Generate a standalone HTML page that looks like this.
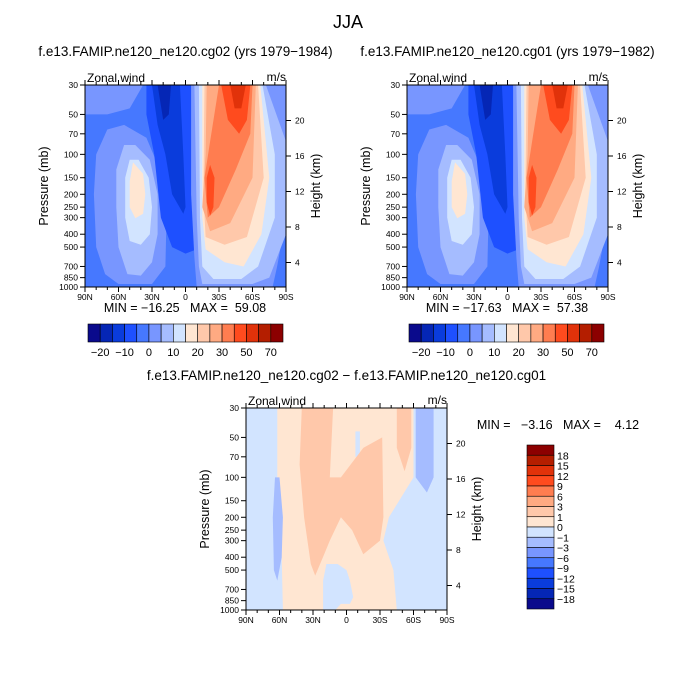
<!DOCTYPE html>
<html><head><meta charset="utf-8"><style>
body{margin:0;background:#fff;}
svg{display:block;font-family:"Liberation Sans",sans-serif;}
text{white-space:pre;}
</style></head><body>
<svg id="fig" width="694" height="695" viewBox="0 0 694 695" xmlns="http://www.w3.org/2000/svg" xml:space="preserve">
<text x="348" y="28" font-size="18" text-anchor="middle">JJA</text>
</svg>
<script>
// ---------- data ----------
const latTicks=[90,60,30,0,-30,-60,-90];
const latTickLabels=["90N","60N","30N","0","30S","60S","90S"];
const presTicks=[30,50,70,100,150,200,250,300,400,500,700,850,1000];
const heightTicks=[4,8,12,16,20];
const colorsTop=["#0a0a8c","#0526b5","#0a3cdc","#1e50ff","#4678ff","#7896ff","#a5bcff","#d2e4ff","#ffe6d2","#ffc8aa","#ffaa82","#ff7d50","#ff4b1e","#e1320a","#b41e00","#8c0000"];
const cbTopLabels=["−20","−10","0","10","20","30","50","70"];
const cbDiffLabels=["18","15","12","9","6","3","1","0","−1","−3","−6","−9","−12","−15","−18"];
// contour regions: [colorIndex, [[lat,p],...]]
const fieldA=[
 [4,[[90,30],[-90,30],[-90,1000],[90,1000]]],
 [5,[[90,30],[38,30],[50,45],[70,50],[90,50]]],
 [5,[[70,65],[80,100],[82,200],[80,500],[72,800],[60,950],[30,950],[18,700],[17,300],[20,150],[35,75],[55,60]]],
 [6,[[55,85],[62,130],[62,250],[60,500],[52,800],[40,820],[30,650],[25,400],[25,200],[32,110],[45,85]]],
 [7,[[50,110],[54,150],[54,300],[50,450],[40,480],[32,400],[30,250],[33,150],[42,110]]],
 [8,[[47,115],[50,160],[50,250],[45,303],[38,280],[36,200],[38,140]]],
 [3,[[35,30],[-8,30],[-10,200],[-15,500],[0,560],[12,500],[22,300],[28,100],[35,50]]],
 [2,[[30,30],[5,30],[2,100],[0,250],[2,280],[12,200],[18,100],[25,60]]],
 [1,[[25,30],[13,30],[15,50],[20,55]]],
 [5,[[-5,30],[-90,30],[-90,300],[-82,700],[-78,1000],[-10,1000],[-8,600],[-5,200]]],
 [6,[[-8,30],[-72,30],[-90,80],[-90,400],[-75,850],[-60,950],[-15,950],[-12,700],[-10,300]]],
 [7,[[-12,30],[-69,30],[-80,100],[-80,300],[-65,700],[-50,870],[-25,870],[-15,700],[-13,300]]],
 [8,[[-15,30],[-67,30],[-75,150],[-68,400],[-52,700],[-35,650],[-18,520],[-15,300]]],
 [9,[[-17,30],[-65,30],[-70,150],[-55,420],[-35,480],[-18,420],[-16,200]]],
 [10,[[-19,30],[-63,30],[-60,150],[-40,330],[-22,380],[-15,250],[-18,100]]],
 [11,[[-30,30],[-60,30],[-58,70],[-45,130],[-30,250],[-20,300],[-17,150],[-22,80]]],
 [12,[[-32,30],[-58,30],[-55,55],[-48,70],[-38,55]]],
 [12,[[-22,120],[-26,150],[-25,250],[-22,290],[-19,230],[-19,150]]],
 [13,[[-40,30],[-54,30],[-50,45],[-44,45]]]
];
const fieldB=fieldA;
const fieldDiff=[
 [7,[[90,30],[-90,30],[-90,1000],[90,1000]]],
 [8,[[62,30],[-60,30],[-60,100],[-38,200],[-33,300],[-42,500],[-45,1000],[57,1000],[58,400],[62,100]]],
 [7,[[21,1000],[21,600],[18,450],[8,450],[0,500],[-3,600],[-6,800],[-3,900],[5,900],[10,1000]]],
 [7,[[-8,45],[-12,45],[-12,70],[-8,70]]],
 [9,[[40,30],[12,30],[15,100],[5,100],[-15,60],[-32,50],[-33,200],[-30,300],[-15,380],[-5,250],[5,200],[15,300],[20,380],[28,550],[32,450],[38,200],[42,80]]],
 [9,[[-45,30],[-58,30],[-58,60],[-52,90],[-45,60]]],
 [6,[[60,100],[64,100],[66,200],[65,500],[62,600],[58,400],[57,200]]],
 [6,[[-62,30],[-78,30],[-78,100],[-72,130],[-62,100]]]
];
// ---------- drawing ----------
const NS="http://www.w3.org/2000/svg";
const svg=document.getElementById('fig');
function el(tag,attrs,parent){const e=document.createElementNS(NS,tag);for(const k in attrs)e.setAttribute(k,attrs[k]);(parent||svg).appendChild(e);return e;}
function txt(x,y,s,size,anchor,parent){const t=el('text',{x:x,y:y,'font-size':size,'text-anchor':anchor||'start'},parent);t.textContent=s;return t;}

function panel(name,x0,y0,W,H,field,title,mm,mmx,mmy,ty){
 const g=el('g',{});
 
 
 const xs=lat=>x0+(90-lat)/180*W;
 const ys=p=>y0+H-Math.log(1000/p)/Math.log(1000/30)*H;
 const cp='clip-'+name;
 const cl=el('clipPath',{id:cp},g);el('rect',{x:x0,y:y0,width:W,height:H},cl);
 const fg=el('g',{'clip-path':'url(#'+cp+')'},g);
 field.forEach((r,i)=>{
  const pts=r[1].map(q=>xs(q[0]).toFixed(1)+','+ys(q[1]).toFixed(1)).join(' ');
  const pl=el('polygon',{points:pts,fill:colorsTop[r[0]],'stroke-linejoin':'round'},fg);
  
  
 });
 el('rect',{x:x0,y:y0,width:W,height:H,fill:'none',stroke:'#000','stroke-width':1},g);
 for(let l=90;l>=-90;l-=10){
  const major=l%30===0;const x=xs(l);const len=major?5:3;
  el('line',{x1:x,x2:x,y1:y0+H,y2:y0+H+len,stroke:'#000'},g);
  el('line',{x1:x,x2:x,y1:y0,y2:y0-len,stroke:'#000'},g);
 }
 latTicks.forEach((l,i)=>{const t=txt(xs(l),y0+H+13,latTickLabels[i],8.5,'middle',g);
  });
 presTicks.forEach(p=>{const y=ys(p);el('line',{x1:x0-5,x2:x0,y1:y,y2:y,stroke:'#000'},g);
  const t=txt(x0-7,y+3,String(p),8.5,'end',g);});
 heightTicks.forEach(z=>{const y=y0+H+11-8.875*z;el('line',{x1:x0+W,x2:x0+W+5,y1:y,y2:y,stroke:'#000'},g);
  const t=txt(x0+W+9,y+3,String(z),8.5,'start',g);});
 const a=txt(x0+2,y0-3,'Zonal wind',12,'start',g);
 const u=txt(x0+W,y0-4,'m/s',12,'end',g);
 const yl=txt(0,0,'Pressure (mb)',12.5,'middle',g);yl.setAttribute('transform','translate('+(x0-37)+','+(y0+H/2)+') rotate(-90)');
 
 const hl=txt(0,0,'Height (km)',12.5,'middle',g);hl.setAttribute('transform','translate('+(x0+W+34)+','+(y0+H/2)+') rotate(-90)');
 
 const tt=txt(x0+W/2,ty,title,13.5,'middle',g);
 const m=txt(mmx,mmy,mm,12.5,'middle',g);
}
function hbar(name,x0,y0,W,H){
 const g=el('g',{});
 const n=colorsTop.length,bw=W/n;
 colorsTop.forEach((c,i)=>{const r=el('rect',{x:x0+i*bw,y:y0,width:bw,height:H,fill:c,stroke:'#000','stroke-width':0.6},g);
  });
 cbTopLabels.forEach((s,i)=>{const idx=[1,3,5,7,9,11,13,15][i];const t=txt(x0+idx*bw,y0+H+14,s,11,'middle',g);
  });
}
function vbar(name,x0,y0,W,H){
 const g=el('g',{});
 const n=colorsTop.length,bh=H/n;
 colorsTop.slice().reverse().forEach((c,i)=>{const r=el('rect',{x:x0,y:y0+i*bh,width:W,height:bh,fill:c,stroke:'#000','stroke-width':0.6},g);
  });
 cbDiffLabels.forEach((s,i)=>{const t=txt(x0+W+3,y0+(i+1)*bh+4,s,10.5,'start',g);
  });
}
panel('panel-cg02',85,85,201,202,fieldA,'f.e13.FAMIP.ne120_ne120.cg02 (yrs 1979−1984)','MIN = −16.25   MAX =  59.08',185,312,56);
panel('panel-cg01',407,85,201,202,fieldB,'f.e13.FAMIP.ne120_ne120.cg01 (yrs 1979−1982)','MIN = −17.63   MAX =  57.38',507,312,56);
panel('panel-diff',246,408,201,202,fieldDiff,'f.e13.FAMIP.ne120_ne120.cg02 − f.e13.FAMIP.ne120_ne120.cg01','MIN =   −3.16   MAX =    4.12',558,429,380);
hbar('colorbar-cg02',88,324,195,18);
hbar('colorbar-cg01',409,324,195,18);
vbar('colorbar-diff',527,445,27,164);
</script>
</body></html>
